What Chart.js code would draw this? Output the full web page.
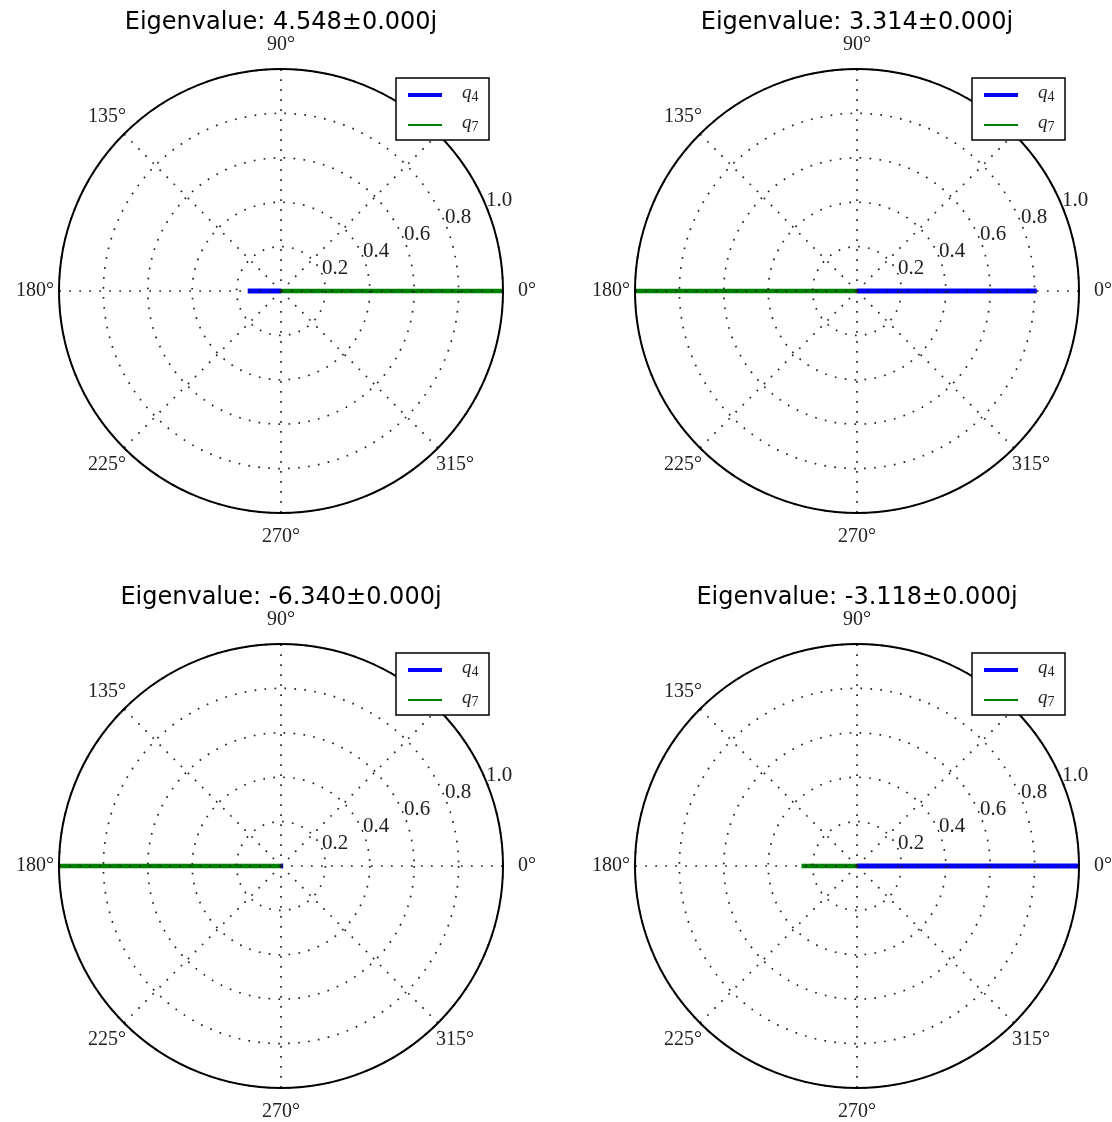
<!DOCTYPE html>
<html><head><meta charset="utf-8">
<script src="https://cdn.jsdelivr.net/npm/chart.js@4/dist/chart.umd.min.js"></script>
<style>
html,body{margin:0;padding:0;background:#fff;overflow:hidden;width:1112px;height:1122px;position:relative}
canvas{position:absolute}
</style></head><body>
<canvas id="c0" width="556" height="550" style="left:0px;top:0px"></canvas>
<canvas id="c1" width="556" height="550" style="left:576px;top:0px"></canvas>
<canvas id="c2" width="556" height="550" style="left:0px;top:575px"></canvas>
<canvas id="c3" width="556" height="550" style="left:576px;top:575px"></canvas>
<script>
// ---- data ----
const titles = ['Eigenvalue: 4.548\u00b10.000j', 'Eigenvalue: 3.314\u00b10.000j', 'Eigenvalue: -6.340\u00b10.000j', 'Eigenvalue: -3.118\u00b10.000j'];
const seriesNames = ['q4', 'q7'];
const angleDegrees = [90, 45, 0, 315, 270, 225, 180, 135]; // clockwise from top
const q4Angle = [180, 0, 0, 0];
const q4Magnitude = [0.15, 0.81, 0.01, 1.0];
const q7Angle = [0, 180, 180, 180];
const q7Magnitude = [1.0, 1.0, 1.0, 0.25];
const radialTicks = [0.2, 0.4, 0.6, 0.8, 1.0];
const seriesColors = ['#0000ff', '#008000'];

const angleLabels = angleDegrees.map(d => d + '\u00b0');
function seriesData(angle, mag) {
  return angleDegrees.map(d => (d === angle ? mag : 0));
}

const polarDecor = {
  id: 'polarDecor',
  afterDraw(chart) {
    const s = chart.scales.r;
    const ctx = chart.ctx;
    const R = s.drawingArea;
    const ca = chart.chartArea;
    ctx.save();
    // outer spine
    ctx.setLineDash([]);
    ctx.beginPath();
    ctx.arc(s.xCenter, s.yCenter, s.getDistanceFromCenterForValue(s.max), 0, Math.PI * 2);
    ctx.lineWidth = 2;
    ctx.strokeStyle = '#000';
    ctx.stroke();
    // angle labels
    ctx.font = '20px "Liberation Serif", serif';
    ctx.fillStyle = '#222';
    ctx.textAlign = 'center';
    ctx.textBaseline = 'middle';
    chart.data.labels.forEach((lab, i) => {
      const p = s.getPointPosition(i, R * 1.108);
      ctx.fillText(lab, p.x, p.y);
    });
    // radial tick labels at 22.5 deg
    ctx.font = '21px "Liberation Serif", serif';
    ctx.textAlign = 'left';
    ctx.textBaseline = 'alphabetic';
    radialTicks.forEach(v => {
      const p = s.getPointPosition(1.5, s.getDistanceFromCenterForValue(v));
      ctx.fillText(v.toFixed(1), p.x, p.y);
    });
    // legend
    const lw = 93, lh = 62;
    const lx = ca.right - 107, ly = ca.top + 9;
    ctx.fillStyle = '#fff';
    ctx.fillRect(lx, ly, lw, lh);
    ctx.lineWidth = 1.5;
    ctx.strokeStyle = '#000';
    ctx.strokeRect(lx, ly, lw, lh);
    const legendWidths = [4, 2];
    chart.data.datasets.forEach((ds, k) => {
      const y = ly + 17 + k * 30;
      ctx.beginPath();
      ctx.moveTo(lx + 12, y);
      ctx.lineTo(lx + 46, y);
      ctx.lineWidth = legendWidths[k];
      ctx.strokeStyle = ds.borderColor;
      ctx.stroke();
      const name = ds.label;
      ctx.fillStyle = '#222';
      ctx.textBaseline = 'alphabetic';
      ctx.font = 'italic 19px "Liberation Serif", serif';
      ctx.fillText(name.charAt(0), lx + 66, y + 3);
      const w = ctx.measureText(name.charAt(0)).width;
      ctx.font = '14px "Liberation Serif", serif';
      ctx.fillText(name.slice(1), lx + 66 + w, y + 6);
    });
    ctx.restore();
  }
};

titles.forEach((title, idx) => {
  const ctx = document.getElementById('c' + idx).getContext('2d');
  new Chart(ctx, {
    type: 'radar',
    data: {
      labels: angleLabels,
      datasets: [
        { label: seriesNames[0], data: seriesData(q4Angle[idx], q4Magnitude[idx]), borderColor: seriesColors[0], backgroundColor: seriesColors[0], borderWidth: 5, pointRadius: 0, fill: false, borderJoinStyle: 'bevel', borderCapStyle: 'butt', order: 1 },
        { label: seriesNames[1], data: seriesData(q7Angle[idx], q7Magnitude[idx]), borderColor: seriesColors[1], backgroundColor: seriesColors[1], borderWidth: 4.5, pointRadius: 0, fill: false, borderJoinStyle: 'bevel', borderCapStyle: 'butt', order: 0 }
      ]
    },
    options: {
      responsive: false,
      animation: false,
      devicePixelRatio: 1,
      layout: { padding: { left: 59, right: 53, top: 0, bottom: 37 } },
      plugins: {
        legend: { display: false },
        tooltip: { enabled: false },
        title: {
          display: true, text: title, color: '#000',
          font: { family: '"DejaVu Sans", sans-serif', size: 24, weight: 'normal', lineHeight: 1 },
          padding: { top: 11, bottom: 34 }
        }
      },
      scales: {
        r: {
          min: 0, max: 1, startAngle: 0,
          ticks: { display: false, stepSize: 0.2 },
          pointLabels: { display: false },
          grid: { circular: true, color: '#222', lineWidth: 1.7, z: 1 },
          border: { dash: [1.7, 8.3] },
          angleLines: { color: '#222', lineWidth: 1.7, borderDash: [1.7, 8.3] }
        }
      }
    },
    plugins: [polarDecor]
  });
});
</script>
</body></html>
